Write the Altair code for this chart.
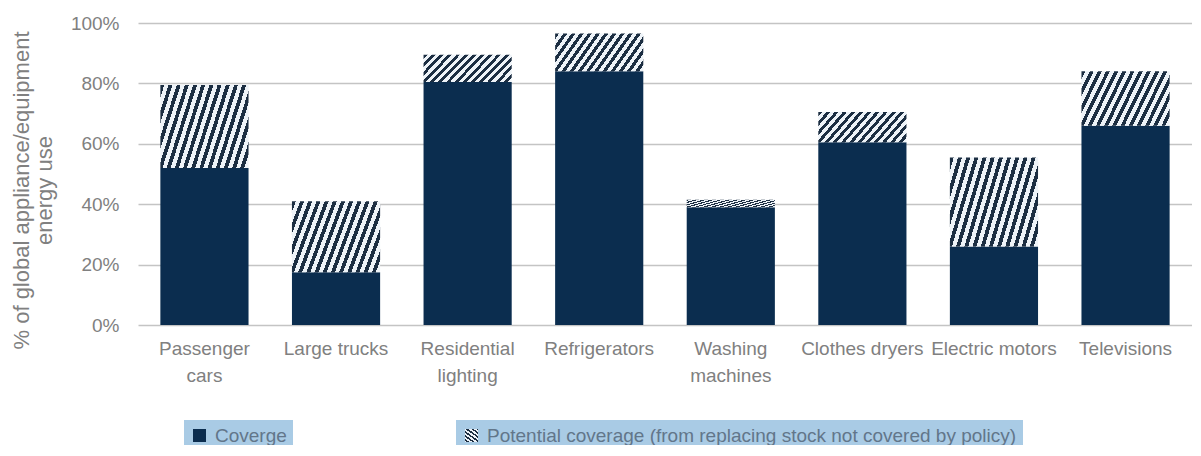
import altair as alt
import pandas as pd

categories = ["Passenger cars", "Large trucks", "Residential lighting", "Refrigerators",
              "Washing machines", "Clothes dryers", "Electric motors", "Televisions"]
label_lines = [["Passenger", "cars"], ["Large trucks"], ["Residential", "lighting"],
               ["Refrigerators"], ["Washing", "machines"], ["Clothes dryers"],
               ["Electric motors"], ["Televisions"]]
coverage = [52, 17.5, 80.5, 84, 39, 60.5, 26, 66]
potential = [27.5, 23.5, 9, 12.5, 2.5, 10, 29.5, 18]
series_names = ["Coverge", "Potential coverage (from replacing stock not covered by policy)"]
y_ticks = [0, 20, 40, 60, 80, 100]

df = pd.DataFrame({
    "category": categories,
    "coverage": coverage,
    "total": [c + p for c, p in zip(coverage, potential)],
    "s1": series_names[0],
    "s2": series_names[1],
})

NAVY = "#0b2d4f"
HATCH_DARK = "#1c2e42"
HATCH_LIGHT = "#eef3f8"
GRID = "#c4c4c4"
TXT = "#808080"
LEG_TXT = "#62768a"
HILITE = "#a9cbe5"
FONT = "Liberation Sans, Arial, sans-serif"

# diagonal hatch as a hard-stop linear gradient
N = 14
k = 0.3
s = (1 + k) / (1 + k * k)
stops = []
for i in range(N):
    a = i / N
    b = (i + 0.48) / N
    c = (i + 1) / N
    stops += [alt.GradientStop(offset=a, color=HATCH_DARK),
              alt.GradientStop(offset=b, color=HATCH_DARK),
              alt.GradientStop(offset=b, color=HATCH_LIGHT),
              alt.GradientStop(offset=c, color=HATCH_LIGHT)]
hatch = alt.LinearGradient(gradient="linear", stops=stops, x1=0, y1=0, x2=s, y2=s * k)

expr_parts = []
for cat, lines in zip(categories, label_lines):
    arr = "[" + ",".join("'" + l + "'" for l in lines) + "]"
    expr_parts.append(f"datum.label == '{cat}' ? {arr} : ")
label_expr = "".join(expr_parts) + "datum.label"

x_enc = alt.X("category:N", sort=categories, title=None,
              scale=alt.Scale(paddingInner=0.33, paddingOuter=0.17),
              axis=alt.Axis(labelAngle=0, labelExpr=label_expr, labelFont=FONT,
                            labelFontSize=19, labelColor=TXT, labelPadding=14,
                            ticks=False, domain=False, labelLineHeight=27,
                            labelBaseline="top"))

y_axis = alt.Axis(values=y_ticks, format=".0f", labelExpr="datum.value + '%'",
                  labelFont=FONT, labelFontSize=19, labelColor=TXT, labelPadding=19,
                  ticks=False, domain=False, gridColor=GRID, gridWidth=1.5,
                  title=["% of global appliance/equipment", "energy use"],
                  titleFont=FONT, titleFontSize=22, titleFontWeight="normal",
                  titleColor=TXT, titlePadding=14, titleLineHeight=23, titleY=167)

leg_common = dict(title=None, orient="none", legendY=397, symbolType="square",
                  symbolSize=169, labelFont=FONT, labelFontSize=19, labelColor=LEG_TXT,
                  fillColor=HILITE, padding=6, labelOffset=6, labelLimit=700)

cov_layer = alt.Chart(df).mark_bar().encode(
    x=x_enc,
    y=alt.Y("coverage:Q", scale=alt.Scale(domain=[0, 100]), axis=y_axis),
    color=alt.Color("s1:N", scale=alt.Scale(domain=[series_names[0]], range=[NAVY]),
                    legend=alt.Legend(legendX=46, **leg_common)),
)

pot_layer = alt.Chart(df).mark_bar(fill=hatch).encode(
    x=x_enc,
    y=alt.Y("coverage:Q"),
    y2=alt.Y2("total:Q"),
    opacity=alt.Opacity("s2:N", scale=alt.Scale(domain=[series_names[1]], range=[1]),
                        legend=alt.Legend(legendX=318, **leg_common)),
)

chart = alt.layer(cov_layer, pot_layer).properties(
    width=1054, height=302,
    padding={"left": 130, "top": 15, "right": 0, "bottom": 120},
    autosize=alt.AutoSizeParams(type="none"),
).configure_view(stroke=None)

chart.save("out.html", embed_options={"renderer": "svg", "actions": False})
